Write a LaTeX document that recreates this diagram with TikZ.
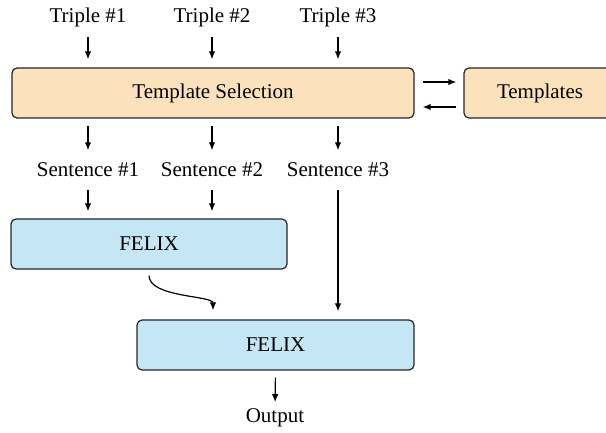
\documentclass[tikz,border=0pt]{standalone}
\usepackage{fontspec}
\setmainfont{Liberation Serif}
\usetikzlibrary{arrows.meta,positioning}
\definecolor{selfill}{HTML}{FBE2BD}
\definecolor{felixfill}{HTML}{C4E6F5}
\begin{document}
\begin{tikzpicture}[x=0.5pt, y=-0.5pt, line width=0.6pt,
    box/.style={draw=black!85, rounded corners=2.5pt, minimum height=25pt, inner sep=0pt},
    lbl/.style={inner sep=0pt, font=\fontsize{10.5}{12}\selectfont},
    arr/.style={-{Latex[length=4pt,width=3.2pt]}}]
  \useasboundingbox (0,0) rectangle (606,433);
  % las tripletas de entrada
  \node[lbl] (t1) at (88,17) {Triple \#1};
  \node[lbl] (t2) at (212,17) {Triple \#2};
  \node[lbl] (t3) at (338,17) {Triple \#3};
  % seleccion de plantillas
  \node[box, fill=selfill, minimum width=201pt, lbl] (sel) at (213,93) {Template Selection};
  \node[box, fill=selfill, minimum width=76pt, lbl] (tpl) at (540,93) {Templates};
  % las oraciones
  \node[lbl] (s1) at (88,170) {Sentence \#1};
  \node[lbl] (s2) at (212,170) {Sentence \#2};
  \node[lbl] (s3) at (338,170) {Sentence \#3};
  % los dos FELIX y la salida
  \node[box, fill=felixfill, minimum width=138pt, lbl] (f1) at (149,244) {FELIX};
  \node[box, fill=felixfill, minimum width=138.5pt, lbl] (f2) at (275.5,345) {FELIX};
  \node[lbl] (out) at (275,418) {Output};
  % flechas
  \foreach \n in {1,2,3} {
    \draw[arr, shorten <=5pt, shorten >=4pt] (t\n.south) -- (t\n.south |- sel.north);
    \draw[arr, shorten <=3.5pt, shorten >=6pt] (sel.south -| s\n.north) -- (s\n.north);
  }
  \draw[arr] ([shift={(4pt,5.5pt)}]sel.east) -- ([shift={(-3.5pt,5.5pt)}]tpl.west);
  \draw[arr] ([shift={(-3.5pt,-7pt)}]tpl.west) -- ([shift={(4pt,-7pt)}]sel.east);
  \foreach \n in {1,2}
    \draw[arr, shorten <=6pt, shorten >=3.5pt] (s\n.south) -- (s\n.south |- f1.north);
  \draw[arr, shorten <=6pt, shorten >=4pt] (s3.south) -- (s3.south |- f2.north);
  \draw[arr, shorten <=3pt, shorten >=4.5pt] (f1.south) .. controls ([yshift=-14pt]f1.south) and ([shift={(-31.25pt,12pt)}]f2.north) .. ([xshift=-31.25pt]f2.north);
  \draw[arr, shorten <=3.5pt, shorten >=3pt] (f2.south) -- (out.north);
\end{tikzpicture}
\end{document}
